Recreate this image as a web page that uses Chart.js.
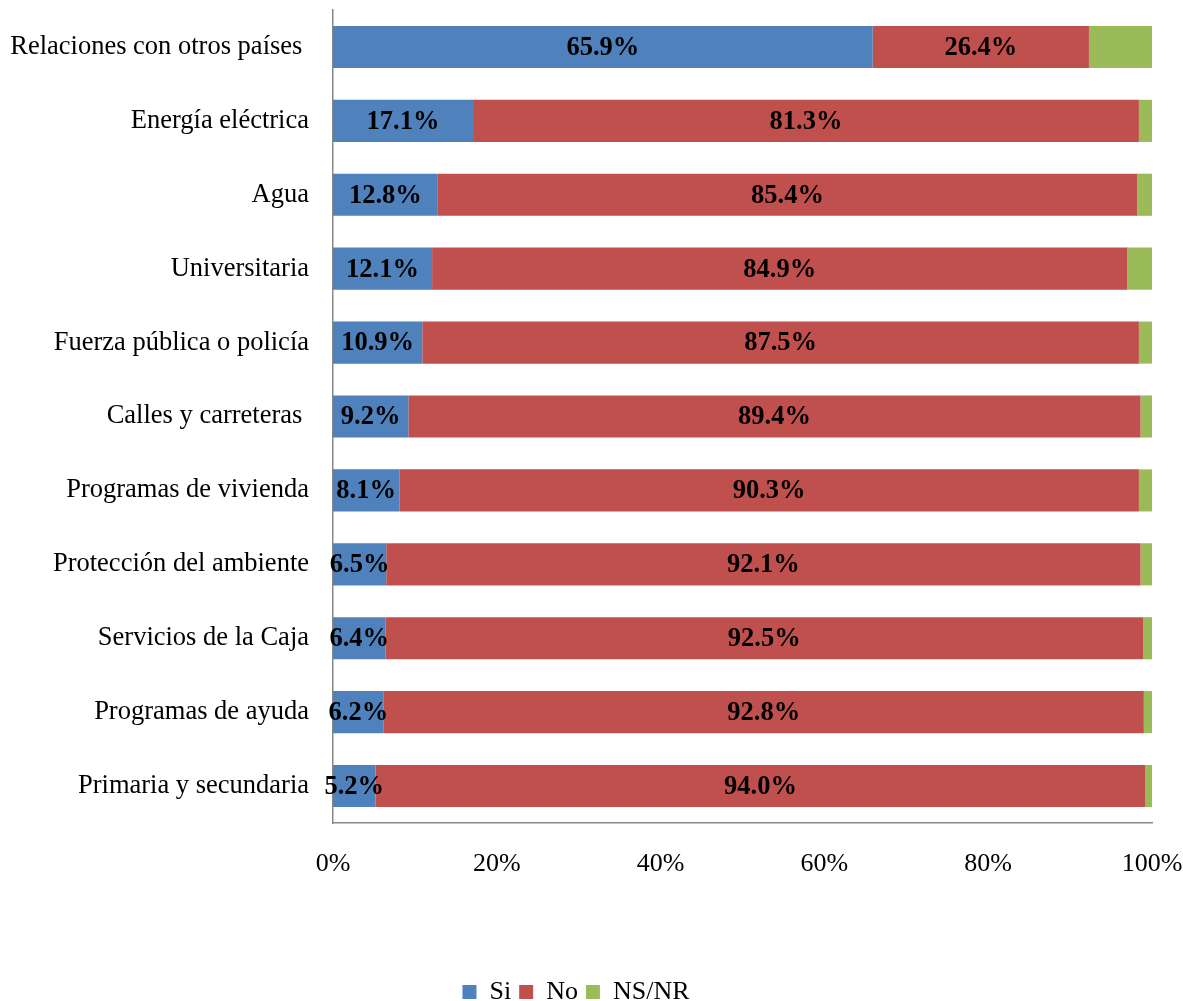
<!DOCTYPE html>
<html>
<head>
<meta charset="utf-8">
<script src="https://cdn.jsdelivr.net/npm/chart.js@4/dist/chart.umd.min.js"></script>
<style>
  body { margin: 0; background: #fff; }
  #wrap { width: 1183px; height: 1001px; }
</style>
</head>
<body>
<div id="wrap"><canvas id="chart"></canvas></div>
<script>
const categories = [
  "Relaciones con otros países ", "Energía eléctrica", "Agua", "Universitaria",
  "Fuerza pública o policía", "Calles y carreteras ", "Programas de vivienda",
  "Protección del ambiente", "Servicios de la Caja", "Programas de ayuda",
  "Primaria y secundaria"
];
const si = [65.9, 17.1, 12.8, 12.1, 10.9, 9.2, 8.1, 6.5, 6.4, 6.2, 5.2];
const no = [26.4, 81.3, 85.4, 84.9, 87.5, 89.4, 90.3, 92.1, 92.5, 92.8, 94.0];
const nsnr = [7.7, 1.6, 1.8, 3.0, 1.6, 1.4, 1.6, 1.4, 1.1, 1.0, 0.8];
const tickLabels = ["0%", "20%", "40%", "60%", "80%", "100%"];

const serif = "'Liberation Serif', 'Times New Roman', serif";

// draws the % values inside the Si and No segments
const barLabels = {
  id: 'barLabels',
  afterDatasetsDraw(chart) {
    const ctx = chart.ctx;
    ctx.save();
    ctx.font = "bold 26.5px " + serif;
    ctx.fillStyle = "#000";
    ctx.textAlign = "center";
    ctx.textBaseline = "middle";
    [0, 1].forEach(di => {
      const meta = chart.getDatasetMeta(di);
      meta.data.forEach((bar, i) => {
        const v = chart.data.datasets[di].data[i];
        const cx = (bar.x + bar.base) / 2;
        ctx.fillText(v.toFixed(1) + "%", cx, bar.y + 1);
      });
    });
    ctx.restore();
  }
};

new Chart(document.getElementById('chart'), {
  type: 'bar',
  data: {
    labels: categories,
    datasets: [
      { label: 'Si', data: si, backgroundColor: '#4F81BD' },
      { label: 'No', data: no, backgroundColor: '#C0504D' },
      { label: 'NS/NR', data: nsnr, backgroundColor: '#9BBB59' }
    ]
  },
  options: {
    indexAxis: 'y',
    responsive: true,
    maintainAspectRatio: false,
    animation: false,
    categoryPercentage: 1,
    barPercentage: 0.57,
    layout: { padding: { top: 10, right: 31, left: 0, bottom: -14 } },
    scales: {
      x: {
        stacked: true,
        min: 0,
        max: 100,
        grid: { display: false, drawTicks: false },
        border: { color: '#888', width: 1.5 },
        ticks: {
          stepSize: 20,
          padding: 26,
          color: '#000',
          font: { family: serif, size: 26 },
          callback: (v, i) => tickLabels[i]
        },
        afterFit(s) {
          s.height = 148;
          s.paddingLeft = 0;
          s.paddingRight = 0;
        }
      },
      y: {
        stacked: true,
        grid: { display: false, drawTicks: false },
        border: { color: '#888', width: 1.5 },
        ticks: {
          padding: 24,
          color: '#000',
          font: { family: serif, size: 26.5 }
        },
        afterFit(s) {
          s.width = 333;
          s.paddingTop = 0;
          s.paddingBottom = 0;
        }
      }
    },
    plugins: {
      legend: {
        position: 'bottom',
        labels: {
          boxWidth: 14,
          boxHeight: 14,
          padding: 8,
          color: '#000',
          font: { family: serif, size: 26 }
        }
      },
      tooltip: { enabled: false }
    }
  },
  plugins: [barLabels]
});
</script>
</body>
</html>
